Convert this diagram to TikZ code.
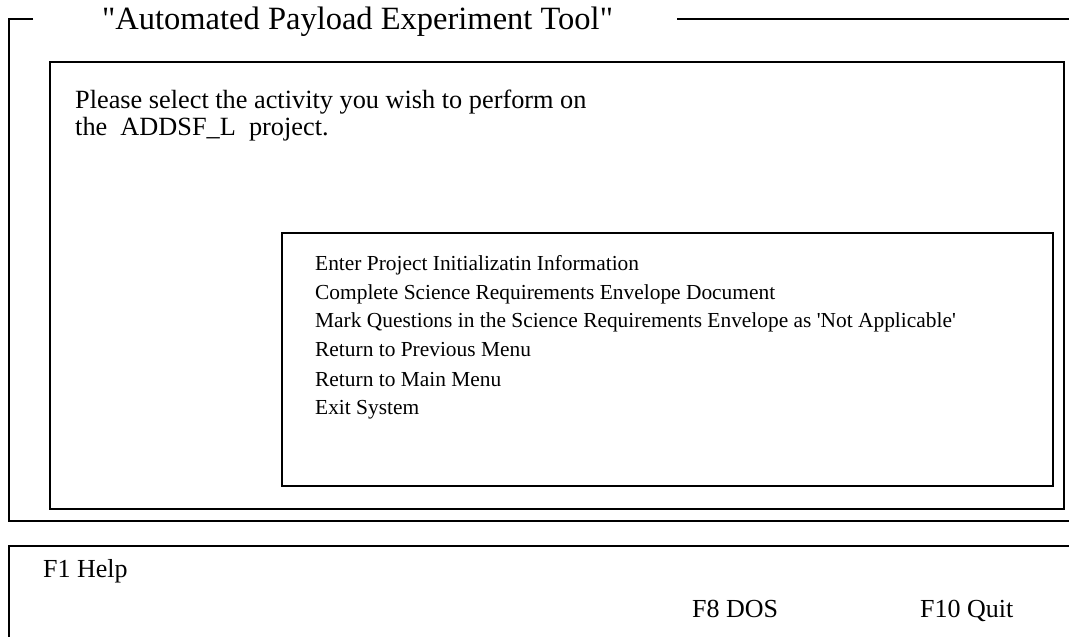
\documentclass[tikz,border=0pt]{standalone}
\usepackage{fontspec}
\setmainfont{Liberation Serif}[Ligatures=TeXOff]
\begin{document}
\begin{tikzpicture}[x=1pt,y=-1pt,
  frame/.style={line width=1.3pt,black},
  txt/.style={inner sep=0pt,anchor=base west},
  titletxt/.style={txt,font=\fontsize{32.5}{39}\selectfont},
  bodytxt/.style={txt,font=\fontsize{26.3}{30}\selectfont},
  menutxt/.style={txt,font=\fontsize{21.4}{25}\selectfont},
  keytxt/.style={txt,font=\fontsize{26}{30}\selectfont}]
\useasboundingbox[fill=white] (0,0) rectangle (1069,637);
% outer frame (open at right)
\coordinate (oTL) at (9,19);
\coordinate (oTLend) at (33,19);
\coordinate (oTR0) at (677,19);
\coordinate (oTR1) at (1069,19);
\coordinate (oBL) at (9,521);
\coordinate (oBR) at (1069,521);
\draw[frame] (oTLend) -- (oTL) -- (oBL) -- (oBR);
\draw[frame] (oTR0) -- (oTR1);
% inner box
\draw[frame] (50,62) rectangle (1064,509);
% menu box
\draw[frame] (282,233) rectangle (1053,486);
% bottom box (open at right and bottom)
\coordinate (bTL) at (9,546);
\coordinate (bTR) at (1069,546);
\coordinate (bBL) at (9,640);
\draw[frame] (bTR) -- (bTL) -- (bBL);
% title
\node[titletxt] (title) at (102,29) {"Automated Payload Experiment Tool"};
% prompt
\node[bodytxt] (p1) at (75,108) {Please select the activity you wish to perform on};
\node[bodytxt] (p2) at (75,135) {the\ \ ADDSF\_L\ \ project.};
% menu
\node[menutxt] (m1) at (315,270) {Enter Project Initializatin Information};
\node[menutxt] (m2) at (315,299) {Complete Science Requirements Envelope Document};
\node[menutxt] (m3) at (315,327) {Mark Questions in the Science Requirements Envelope as 'Not Applicable'};
\node[menutxt] (m4) at (315,356) {Return to Previous Menu};
\node[menutxt] (m5) at (315,386) {Return to Main Menu};
\node[menutxt] (m6) at (315,414) {Exit System};
% keys
\node[keytxt] (k1) at (43,577) {F1 Help};
\node[keytxt] (k8) at (692,617) {F8 DOS};
\node[keytxt] (k10) at (920,617) {F10 Quit};
\end{tikzpicture}
\end{document}
